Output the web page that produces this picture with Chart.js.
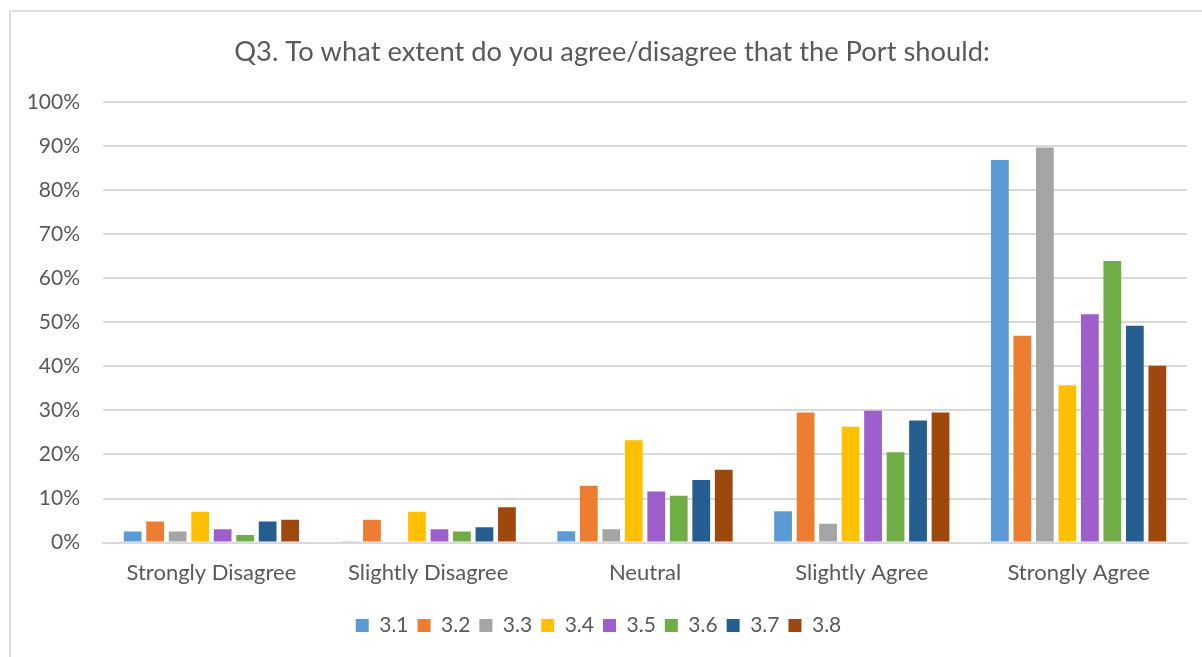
<!DOCTYPE html>
<html>
<head>
<meta charset="utf-8">
<script src="https://cdn.jsdelivr.net/npm/chart.js@4/dist/chart.umd.min.js"></script>
<style>
    html, body { margin: 0; padding: 0; background: #fff; overflow: hidden; }
    #wrap { position: relative; width: 1202px; height: 657px; }
    #frame { position: absolute; left: 9px; top: 10px; width: 1300px; height: 800px; border: 2px solid #dcdcdc; box-sizing: border-box; }
    #q3Chart { position: absolute; left: 0; top: 0; }
</style>
</head>
<body>
<div id="wrap">
    <div id="frame"></div>
    <canvas id="q3Chart" width="1202" height="657"></canvas>
</div>
<script>
// 类别与数据（百分比）
const categories = ['Strongly Disagree', 'Slightly Disagree', 'Neutral', 'Slightly Agree', 'Strongly Agree'];
const seriesNames = ['3.1', '3.2', '3.3', '3.4', '3.5', '3.6', '3.7', '3.8'];
const yTicks = [0, 10, 20, 30, 40, 50, 60, 70, 80, 90, 100];
const chartTitle = 'Q3. To what extent do you agree/disagree that the Port should:';

const q31 = [2.5, 0.3, 2.6, 7.1, 86.8];
const q32 = [4.8, 5.2, 12.9, 29.5, 46.9];
const q33 = [2.5, 0, 3.0, 4.3, 89.6];
const q34 = [7.0, 7.0, 23.2, 26.3, 35.7];
const q35 = [3.0, 3.0, 11.6, 29.9, 51.8];
const q36 = [1.7, 2.5, 10.6, 20.5, 63.9];
const q37 = [4.8, 3.5, 14.2, 27.7, 49.2];
const q38 = [5.2, 8.0, 16.5, 29.5, 40.1];

const seriesValues = [q31, q32, q33, q34, q35, q36, q37, q38];
const colors = ['#5B9BD5', '#ED7D31', '#A5A5A5', '#FFC000', '#9E5FCC', '#70AD47', '#255E91', '#9E480E'];

document.addEventListener('DOMContentLoaded', function() {
    const ctx = document.getElementById('q3Chart');
    const textColor = '#595959';
    const gridColor = '#d9d9d9';
    const fontFamily = 'Lato, "Open Sans", sans-serif';
    const titleSize = 27.3;

    // 标题在整个外框内居中（Chart.js 自带标题只按画布居中）
    const centeredTitle = {
        id: 'centeredTitle',
        afterDraw(chart) {
            const tb = chart.titleBlock;
            if (!tb) return;
            const c = chart.ctx;
            c.save();
            c.font = titleSize + 'px ' + fontFamily;
            c.fillStyle = textColor;
            c.textAlign = 'center';
            c.textBaseline = 'middle';
            c.fillText(chartTitle, 612, (tb.top + tb.bottom) / 2 + 1.5);
            c.restore();
        }
    };

    new Chart(ctx, {
        type: 'bar',
        data: {
            labels: categories,
            datasets: seriesNames.map((name, i) => ({
                label: name,
                data: seriesValues[i],
                backgroundColor: colors[i],
                borderWidth: 0,
                categoryPercentage: 0.83,
                barPercentage: 0.79
            }))
        },
        options: {
            responsive: false,
            animation: false,
            layout: {
                padding: { left: 10, right: 15, top: 0, bottom: 11 }
            },
            scales: {
                y: {
                    min: 0,
                    max: 100,
                    afterBuildTicks: function(axis) {
                        axis.ticks = yTicks.map(v => ({ value: v }));
                    },
                    afterFit: function(axis) {
                        axis.width = 93;
                    },
                    ticks: {
                        padding: 23,
                        color: textColor,
                        font: { family: fontFamily, size: 21 },
                        callback: v => v + '%'
                    },
                    grid: {
                        color: gridColor,
                        lineWidth: 2,
                        drawTicks: false
                    },
                    border: { display: false }
                },
                x: {
                    afterFit: function(axis) {
                        axis.height += 3;
                    },
                    ticks: {
                        padding: 17,
                        color: textColor,
                        font: { family: fontFamily, size: 22 }
                    },
                    grid: {
                        display: false,
                        drawTicks: false
                    },
                    border: { display: true, color: gridColor, width: 2 }
                }
            },
            plugins: {
                // 只占位，文字由 centeredTitle 绘制
                title: {
                    display: true,
                    text: chartTitle,
                    color: 'rgba(0,0,0,0)',
                    font: { family: fontFamily, size: titleSize, weight: 'normal' },
                    padding: { top: 36, bottom: 33 }
                },
                legend: {
                    position: 'bottom',
                    labels: {
                        color: textColor,
                        font: { family: fontFamily, size: 21 },
                        boxWidth: 13,
                        boxHeight: 13,
                        padding: 9
                    }
                },
                tooltip: { enabled: false }
            }
        },
        plugins: [centeredTitle]
    });
});
</script>
</body>
</html>
